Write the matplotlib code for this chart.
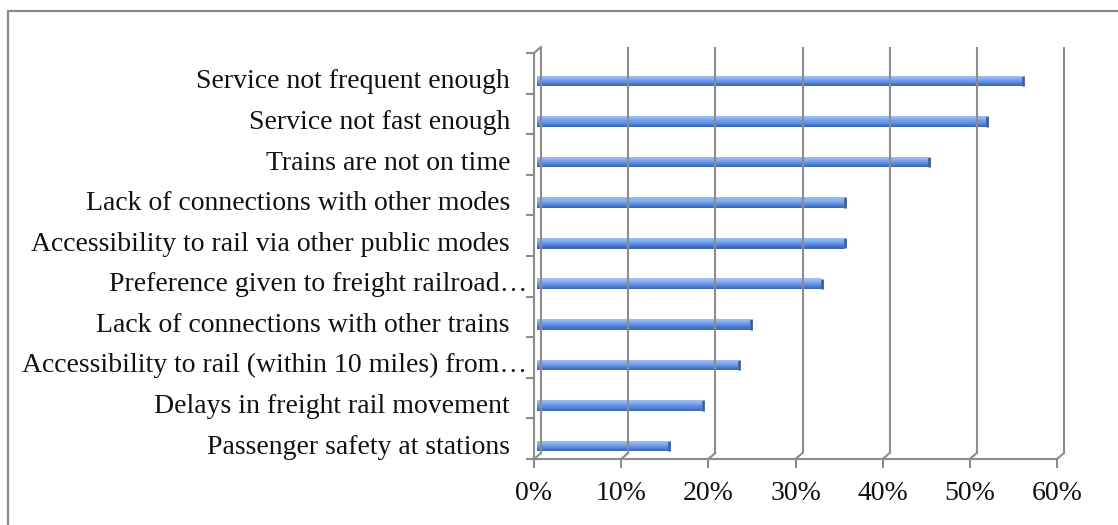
import matplotlib
matplotlib.use("Agg")
import matplotlib.pyplot as plt
from matplotlib.transforms import ScaledTranslation
from matplotlib.patches import Rectangle
import numpy as np

# Survey results: share of respondents citing each barrier (percent)
categories = [
    "Passenger safety at stations",
    "Delays in freight rail movement",
    "Accessibility to rail (within 10 miles) from\u2026",
    "Lack of connections with other trains",
    "Preference given to freight railroad\u2026",
    "Accessibility to rail via other public modes",
    "Lack of connections with other modes",
    "Trains are not on time",
    "Service not fast enough",
    "Service not frequent enough",
]
values = [15.0, 18.9, 23.1, 24.4, 32.6, 35.2, 35.2, 44.8, 51.5, 55.6]
x_ticks = [0, 10, 20, 30, 40, 50, 60]
x_tick_labels = ["0%", "10%", "20%", "30%", "40%", "50%", "60%"]

W, H, DPI = 1118, 525, 100
fig = plt.figure(figsize=(W / DPI, H / DPI), dpi=DPI)
fig.patch.set_facecolor("white")

# outer chart frame (runs off the right/bottom edge)
fig.add_artist(Rectangle((8 / W, -0.05), 1.2, (H - 11) / H + 0.05,
                         transform=fig.transFigure, fill=False,
                         edgecolor="#8a8a8a", linewidth=1.6))

# front plane of the plot area
left_px, right_px, bot_px, top_px = 534, 1057, 459, 53
ax = fig.add_axes([left_px / W, (H - bot_px) / H,
                   (right_px - left_px) / W, (bot_px - top_px) / H])
ax.set_xlim(0, 60)
ax.set_ylim(-0.32, 9.69)
ax.axis("off")

def px_offset(dx, dy):
    return ax.transData + ScaledTranslation(dx / DPI, dy / DPI, fig.dpi_scale_trans)

grid_c = "#8c8c8c"
glw = 1.5
depth_x, depth_y = 7, 6
back = px_offset(depth_x, depth_y)
y0, y1 = ax.get_ylim()

# back wall gridlines
for xv in x_ticks:
    ax.plot([xv, xv], [y0, y1], color=grid_c, lw=glw, transform=back,
            solid_capstyle="butt", clip_on=False)

# floor: front edge, depth edges and ticks
ax.plot([0, 60], [y0, y0], color=grid_c, lw=glw, clip_on=False,
        solid_capstyle="butt")
for xv in x_ticks:
    xf, yf = ax.transData.transform((xv, y0))
    xb, yb = back.transform((xv, y0))
    fig.add_artist(plt.Line2D([xf / W, xb / W], [yf / H, yb / H],
                              color=grid_c, lw=glw))
    fig.add_artist(plt.Line2D([xf / W, xf / W], [yf / H, (yf - 8) / H],
                              color=grid_c, lw=glw))

# left wall: front edge, top depth edge, category ticks
ax.plot([0, 0], [y0, y1], color=grid_c, lw=glw, clip_on=False,
        solid_capstyle="butt")
xf, yf = ax.transData.transform((0, y1))
xb, yb = back.transform((0, y1))
fig.add_artist(plt.Line2D([xf / W, xb / W], [yf / H, yb / H], color=grid_c, lw=glw))
for k in range(len(categories) + 1):
    yt = y0 + k * (y1 - y0) / len(categories)
    xa, ya = ax.transData.transform((0, yt))
    fig.add_artist(plt.Line2D([(xa - 7) / W, xa / W], [ya / H, ya / H],
                              color=grid_c, lw=glw))

# cylinder-like shaded bars
ypos = np.arange(len(categories))
bar_h = 0.26
shades = ["#9fbcec", "#93b6f2", "#88aff1", "#7ca7ee", "#6f9de8",
          "#6393e2", "#5888da", "#4d7dd0", "#4573c3", "#3e67b2"]
n = len(shades)
bar_tr = px_offset(3, 0)
for i, c in enumerate(shades):
    yc = ypos + bar_h / 2 - (i + 0.5) * bar_h / n
    ax.barh(yc, values, height=bar_h / n * 1.05, left=0, color=c,
            linewidth=0, transform=bar_tr)
# darker end caps
for yv, v in zip(ypos, values):
    ax.plot([v, v], [yv - bar_h / 2, yv + bar_h / 2], color="#3a5d98",
            lw=2.0, transform=px_offset(4, 0), solid_capstyle="butt")

# category labels
serif = ["Liberation Serif", "DejaVu Serif"]
for yv, lab in zip(ypos, categories):
    xa, ya = ax.transData.transform((0, yv))
    shift = 0 if lab.endswith("\u2026") else 17
    fig.text((xa - 7 - shift) / W, (ya - 1) / H, lab, ha="right", va="center",
             fontsize=20, family=serif, color="#111111")

# value axis labels
for xv, lab in zip(x_ticks, x_tick_labels):
    xa, ya = ax.transData.transform((xv, y0))
    fig.text(xa / W, (ya - 34) / H, lab, ha="center", va="center",
             fontsize=20, family=serif, color="#111111")

fig.savefig("out.png", dpi=DPI, facecolor="white")
